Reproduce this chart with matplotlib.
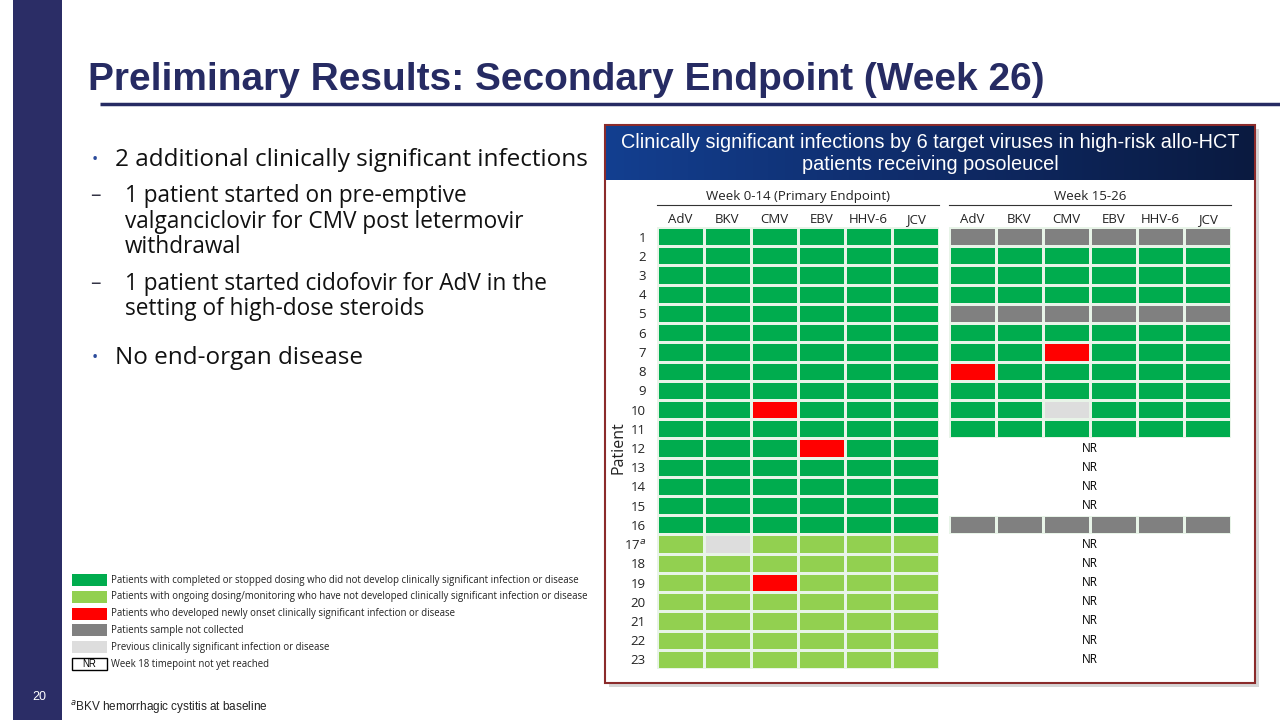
#!/usr/bin/env python3
"""Secondary endpoint slide: infection status grid per patient and virus."""

import matplotlib

matplotlib.use("Agg")
import matplotlib.pyplot as plt
import numpy as np
from matplotlib.colors import ListedColormap, BoundaryNorm, LinearSegmentedColormap
from matplotlib.patches import Rectangle

# status codes: 0 completed/no infection, 1 ongoing, 2 new infection,
# 3 sample not collected, 4 previous infection, 5 not reached (NR)
viruses = ["AdV", "BKV", "CMV", "EBV", "HHV-6", "JCV"]
patients = [str(i) for i in range(1, 17)] + ["17$^{a}$"] + [str(i) for i in range(18, 24)]

week_0_14 = [
    [0, 0, 0, 0, 0, 0],
    [0, 0, 0, 0, 0, 0],
    [0, 0, 0, 0, 0, 0],
    [0, 0, 0, 0, 0, 0],
    [0, 0, 0, 0, 0, 0],
    [0, 0, 0, 0, 0, 0],
    [0, 0, 0, 0, 0, 0],
    [0, 0, 0, 0, 0, 0],
    [0, 0, 0, 0, 0, 0],
    [0, 0, 2, 0, 0, 0],
    [0, 0, 0, 0, 0, 0],
    [0, 0, 0, 2, 0, 0],
    [0, 0, 0, 0, 0, 0],
    [0, 0, 0, 0, 0, 0],
    [0, 0, 0, 0, 0, 0],
    [0, 0, 0, 0, 0, 0],
    [1, 4, 1, 1, 1, 1],
    [1, 1, 1, 1, 1, 1],
    [1, 1, 2, 1, 1, 1],
    [1, 1, 1, 1, 1, 1],
    [1, 1, 1, 1, 1, 1],
    [1, 1, 1, 1, 1, 1],
    [1, 1, 1, 1, 1, 1],
]

week_15_26 = [
    [3, 3, 3, 3, 3, 3],
    [0, 0, 0, 0, 0, 0],
    [0, 0, 0, 0, 0, 0],
    [0, 0, 0, 0, 0, 0],
    [3, 3, 3, 3, 3, 3],
    [0, 0, 0, 0, 0, 0],
    [0, 0, 2, 0, 0, 0],
    [2, 0, 0, 0, 0, 0],
    [0, 0, 0, 0, 0, 0],
    [0, 0, 4, 0, 0, 0],
    [0, 0, 0, 0, 0, 0],
    [5, 5, 5, 5, 5, 5],
    [5, 5, 5, 5, 5, 5],
    [5, 5, 5, 5, 5, 5],
    [5, 5, 5, 5, 5, 5],
    [3, 3, 3, 3, 3, 3],
    [5, 5, 5, 5, 5, 5],
    [5, 5, 5, 5, 5, 5],
    [5, 5, 5, 5, 5, 5],
    [5, 5, 5, 5, 5, 5],
    [5, 5, 5, 5, 5, 5],
    [5, 5, 5, 5, 5, 5],
    [5, 5, 5, 5, 5, 5],
]

legend_labels = [
    "Patients with completed or stopped dosing who did not develop clinically significant infection or disease",
    "Patients with ongoing dosing/monitoring who have not developed clinically significant infection or disease",
    "Patients who developed newly onset clinically significant infection or disease",
    "Patients sample not collected",
    "Previous clinically significant infection or disease",
    "Week 18 timepoint not yet reached",
]

bullet_lines = [
    ("•", "2 additional clinically significant infections"),
    ("–", "1 patient started on pre-emptive"),
    ("", "valganciclovir for CMV post letermovir"),
    ("", "withdrawal"),
    ("–", "1 patient started cidofovir for AdV in the"),
    ("", "setting of high-dose steroids"),
    ("•", "No end-organ disease"),
]

STATUS_COLORS = ["#00AC4E", "#92D050", "#FF0000", "#808080", "#DDDDDD", "#FFFFFF"]
NAVY = "#262B63"
BODY = ["Open Sans", "DejaVu Sans"]
SANS = ["Liberation Sans", "DejaVu Sans"]

W, H = 1280, 720
fig = plt.figure(figsize=(12.8, 7.2), dpi=100)
fig.patch.set_facecolor("white")

bg = fig.add_axes([0, 0, 1, 1])
bg.set_xlim(0, W)
bg.set_ylim(H, 0)
bg.axis("off")

# slide furniture
bg.add_patch(Rectangle((13, 0), 49, H, color="#2B2D66", lw=0))
bg.text(88, 80, "Preliminary Results: Secondary Endpoint (Week 26)", fontsize=28,
        fontweight="bold", color=NAVY, family=SANS, va="center", ha="left")
bg.plot([100, W], [104, 104], color=NAVY, lw=2.5, solid_capstyle="butt")
bg.text(39, 697, "20", fontsize=9, color="white", ha="center", va="center", family=SANS)
bg.text(70, 707, "$^{a}$BKV hemorrhagic cystitis at baseline", fontsize=8.5, color="#222222",
        ha="left", va="center", family=SANS)

# bullets, one text per line
bullet_y = [160, 196, 222, 247, 284, 309, 358]
for (mark, txt), y in zip(bullet_lines, bullet_y):
    main = mark == "•"
    tx = 115 if main else 125
    fs = 17.5 if main else 16.3
    if mark:
        bg.text(95, y, mark, fontsize=12 if main else 15, color="#2B4B9B" if main else "#333344",
                ha="center", va="center", family=BODY)
    bg.text(tx, y, txt, fontsize=fs, color="#111111", ha="left", va="center", family=BODY)

# legend
for i, lab in enumerate(legend_labels):
    y = 580 + i * 16.8
    if i < 5:
        bg.add_patch(Rectangle((72, y - 6), 35, 12, color=STATUS_COLORS[i], lw=0))
    else:
        bg.add_patch(Rectangle((72, y - 6), 35, 12, facecolor="white", edgecolor="black", lw=1))
        bg.text(89.5, y, "NR", fontsize=7, ha="center", va="center", family=SANS)
    bg.text(111, y, lab, fontsize=6.95, color="#222222", ha="left", va="center", family=BODY)

# panel box with shadow and header band
bg.add_patch(Rectangle((609, 129), 650, 558, color="#BBBBBB", lw=0, alpha=0.6))
bg.add_patch(Rectangle((605, 125), 650, 558, facecolor="white", edgecolor="#8B2B2B", lw=1.5))
grad = np.linspace(0, 1, 256).reshape(1, -1)
band = LinearSegmentedColormap.from_list("band", ["#133F90", "#0F2B68", "#0A1A40"])
bg.imshow(grad, cmap=band, extent=(606, 1254, 180, 126), aspect="auto", zorder=2)
bg.text(930, 153, "Clinically significant infections by 6 target viruses in high-risk allo-HCT\npatients receiving posoleucel",
        fontsize=14.3, color="white", ha="center", va="center", family=SANS, linespacing=1.2, zorder=3)

# grids
cmap = ListedColormap(STATUS_COLORS)
norm = BoundaryNorm(np.arange(-0.5, 6.5, 1), cmap.N)
top, bottom = 227, 669


def grid_axes(x0, x1):
    return fig.add_axes([x0 / W, 1 - bottom / H, (x1 - x0) / W, (bottom - top) / H])


for k, (data, x0, x1, head) in enumerate([
    (week_0_14, 657, 939, "Week 0-14 (Primary Endpoint)"),
    (week_15_26, 949, 1231, "Week 15-26"),
]):
    arr = np.array(data)
    ax = grid_axes(x0, x1)
    ax.pcolormesh(arr, cmap=cmap, norm=norm, edgecolors="#E8F4E8", linewidth=0.9)
    ax.set_xlim(0, len(viruses))
    ax.set_ylim(len(patients), 0)
    for s in ax.spines.values():
        s.set_visible(False)
    ax.xaxis.tick_top()
    ax.tick_params(axis="both", length=0, pad=3)
    ax.set_xticks(np.arange(len(viruses)) + 0.5)
    ax.set_xticklabels(viruses, fontsize=9.5, family=BODY, color="#222222", va="baseline")
    if k == 0:
        ax.set_yticks(np.arange(len(patients)) + 0.5)
        ax.set_yticklabels(patients, fontsize=9.5, family=BODY, color="#222222")
        ax.tick_params(axis="y", pad=8)
        ax.set_ylabel("Patient", fontsize=11.5, family=BODY, color="#222222")
        ax.yaxis.set_label_coords((627 - x0) / (x1 - x0), 0.5)
    else:
        ax.set_yticks([])
        for r, row in enumerate(arr):
            if (row == 5).all():
                ax.add_patch(Rectangle((-0.1, r - 0.02), 6.2, 1.04, facecolor="white", lw=0,
                                       zorder=3, clip_on=False))
                ax.text(3, r + 0.5, "NR", fontsize=8.5, ha="center", va="center", family=BODY, zorder=4)
    # group header with underline, in axes coordinates
    ax.text(0.5, 1.055, head, transform=ax.transAxes, fontsize=9.5, ha="center",
            va="bottom", family=BODY, color="#222222")
    ax.plot([0, 1], [1.05, 1.05], transform=ax.transAxes, color="#333333", lw=0.8, clip_on=False)

fig.savefig("out.png", dpi=100)
